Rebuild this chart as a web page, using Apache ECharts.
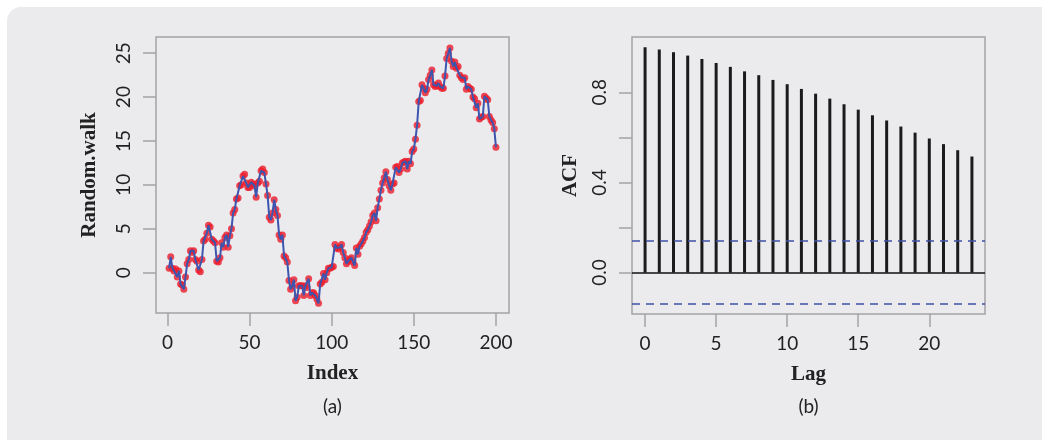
<!DOCTYPE html>
<html>
<head>
<meta charset="utf-8">
<script src="https://cdn.jsdelivr.net/npm/echarts@6/dist/echarts.min.js"></script>
<style>
  html, body { margin: 0; padding: 0; background: #ffffff; }
  #panel { position: absolute; left: 7px; top: 7px; width: 1035px; height: 433px;
           background: #ebebee; border-top-left-radius: 14px; }
  #chart { position: absolute; left: 0; top: 0; width: 1042px; height: 442px; }
</style>
</head>
<body>
<div id="panel"></div>
<div id="chart"></div>
<script>
// Random walk, observations 1..200
const randomWalk = [
  0.5, 1.8, 0.5, 0.2, 0.4, -0.5, 0.2, -1.3, -1.4, -1.9,
  -0.5, 1.0, 1.5, 2.5, 2.3, 2.5, 1.5, 1.3, 0.3, 0.1,
  1.5, 3.6, 3.8, 4.5, 5.4, 5.2, 3.8, 3.6, 3.4, 1.3,
  1.2, 1.7, 3.4, 2.9, 4.0, 4.3, 2.9, 4.2, 5.0, 6.8,
  7.2, 8.4, 8.5, 9.9, 10.0, 11.0, 11.2, 10.2, 9.7, 9.7,
  10.3, 10.1, 9.9, 8.6, 10.2, 10.4, 11.6, 11.8, 11.4, 10.1,
  8.8, 6.3, 6.0, 6.8, 8.3, 7.2, 6.5, 4.3, 3.8, 4.3,
  1.9, 1.7, 1.2, -0.9, -1.9, -1.5, -0.8, -3.2, -2.8, -1.5,
  -1.5, -1.5, -2.6, -1.5, -1.7, -0.7, -2.6, -2.3, -2.3, -2.6,
  -3.0, -3.5, -1.3, -1.1, -0.1, -0.8, 0.0, 0.5, 0.5, 0.6,
  0.7, 3.2, 2.8, 2.7, 2.9, 3.2, 2.3, 1.7, 1.0, 1.3,
  1.5, 1.7, 1.2, 0.8, 2.8, 2.1, 3.0, 3.3, 3.6, 4.0,
  4.6, 4.9, 5.3, 5.8, 6.5, 6.8, 5.9, 7.4, 8.4, 9.4,
  10.2, 10.8, 11.5, 10.6, 9.9, 9.4, 10.1, 10.2, 12.0, 12.1,
  11.4, 11.8, 12.5, 12.6, 12.7, 11.8, 12.7, 12.4, 13.8, 14.1,
  15.2, 16.8, 19.5, 19.6, 21.4, 21.0, 20.5, 20.9, 22.0, 22.5,
  23.1, 21.4, 21.2, 21.3, 21.6, 21.2, 21.0, 21.0, 22.4, 24.4,
  25.0, 25.6, 24.1, 23.5, 24.0, 23.3, 23.5, 22.5, 22.2, 22.0,
  22.2, 20.9, 21.2, 21.0, 20.9, 20.0, 19.8, 18.8, 19.3, 17.5,
  17.7, 17.8, 20.1, 19.9, 19.7, 17.8, 17.4, 17.1, 16.4, 14.3
];

// Sample autocorrelation of the walk
const acfLags = [0, 1, 2, 3, 4, 5, 6, 7, 8, 9, 10, 11, 12, 13, 14, 15, 16, 17, 18, 19, 20, 21, 22, 23];
const acfValues = [
  1.000, 0.990, 0.978, 0.963, 0.948, 0.930, 0.913, 0.893, 0.876, 0.855,
  0.836, 0.815, 0.794, 0.772, 0.747, 0.723, 0.698, 0.675, 0.648, 0.621,
  0.595, 0.570, 0.543, 0.515
];
const ciBound = 0.1386;   // 1.96 / sqrt(200)

// Tick positions and labels
const walkIndexTicks = [0, 50, 100, 150, 200];
const walkValueTicks = [0, 5, 10, 15, 20, 25];
const lagTicks = [0, 5, 10, 15, 20];
const acfTicks = [0, 0.2, 0.4, 0.6, 0.8];
const acfTickLabels = [0, 0.4, 0.8];

const frameGray = '#a4a4a6';
const inkColor = '#222222';
const tickText = { fontFamily: 'Lato', fontSize: 19, color: inkColor };
const titleText = { fontFamily: 'Liberation Serif', fontWeight: 'bold', fontSize: 21, color: inkColor };
const tickStyle = { lineStyle: { color: frameGray, width: 1.5 }, length: 13 };

function xAxisDef(gridIndex, min, max, ticks, name) {
  return {
    gridIndex, type: 'value', min, max,
    splitLine: { show: false },
    axisLine: { show: false, onZero: false },
    axisTick: Object.assign({ show: true, customValues: ticks }, tickStyle),
    axisLabel: Object.assign({ customValues: ticks, margin: 20 }, tickText),
    name, nameLocation: 'middle', nameGap: 50, nameTextStyle: titleText
  };
}

function yAxisDef(gridIndex, min, max, ticks, labels, fmt, name, nameGap) {
  return {
    gridIndex, type: 'value', min, max,
    splitLine: { show: false },
    axisLine: { show: false, onZero: false },
    axisTick: Object.assign({ show: true, customValues: ticks }, tickStyle),
    axisLabel: Object.assign({ customValues: labels, rotate: 90, margin: 23, formatter: fmt }, tickText),
    name, nameLocation: 'middle', nameGap, nameRotate: 90, nameTextStyle: titleText
  };
}

const walkPoints = randomWalk.map((v, i) => [i + 1, v]);
const acfPoints = acfLags.map((lag, i) => [lag, acfValues[i]]);

const chart = echarts.init(document.getElementById('chart'), null, { renderer: 'canvas' });
chart.setOption({
  animation: false,
  backgroundColor: 'transparent',
  grid: [
    { left: 156, top: 37, width: 353, height: 276, show: true, borderColor: frameGray, borderWidth: 1.5, backgroundColor: 'transparent' },
    { left: 632, top: 37, width: 353, height: 277, show: true, borderColor: frameGray, borderWidth: 1.5, backgroundColor: 'transparent' }
  ],
  xAxis: [
    xAxisDef(0, -6.96, 207.96, walkIndexTicks, 'Index'),
    xAxisDef(1, -0.92, 23.92, lagTicks, 'Lag')
  ],
  yAxis: [
    yAxisDef(0, -4.6, 26.85, walkValueTicks, walkValueTicks, v => String(v), 'Random.walk', 56),
    yAxisDef(1, -0.184, 1.0455, acfTicks, acfTickLabels, v => v.toFixed(1), 'ACF', 51)
  ],
  series: [
    {
      type: 'scatter', xAxisIndex: 0, yAxisIndex: 0, z: 2,
      data: walkPoints, symbol: 'circle', symbolSize: 7,
      itemStyle: { color: '#ec1c2a' }
    },
    {
      type: 'line', xAxisIndex: 0, yAxisIndex: 0, z: 3,
      data: walkPoints, showSymbol: false, symbol: 'none',
      lineStyle: { color: '#3d55ae', width: 2 }
    },
    {
      type: 'bar', xAxisIndex: 1, yAxisIndex: 1,
      data: acfPoints, barWidth: 3,
      itemStyle: { color: '#1b1b1b' },
      markLine: {
        silent: true, symbol: 'none', label: { show: false },
        data: [
          { yAxis: 0, lineStyle: { color: '#111111', width: 1.5, type: 'solid' } },
          { yAxis: ciBound, lineStyle: { color: '#3f51a6', width: 1.5, type: [8, 6] } },
          { yAxis: -ciBound, lineStyle: { color: '#3f51a6', width: 1.5, type: [8, 6] } }
        ]
      }
    }
  ],
  graphic: [
    { type: 'text', x: 332.5, y: 407, style: { text: '(a)', align: 'center', verticalAlign: 'middle', font: '19px Lato', fill: inkColor } },
    { type: 'text', x: 808.5, y: 407, style: { text: '(b)', align: 'center', verticalAlign: 'middle', font: '19px Lato', fill: inkColor } }
  ]
});
</script>
</body>
</html>
